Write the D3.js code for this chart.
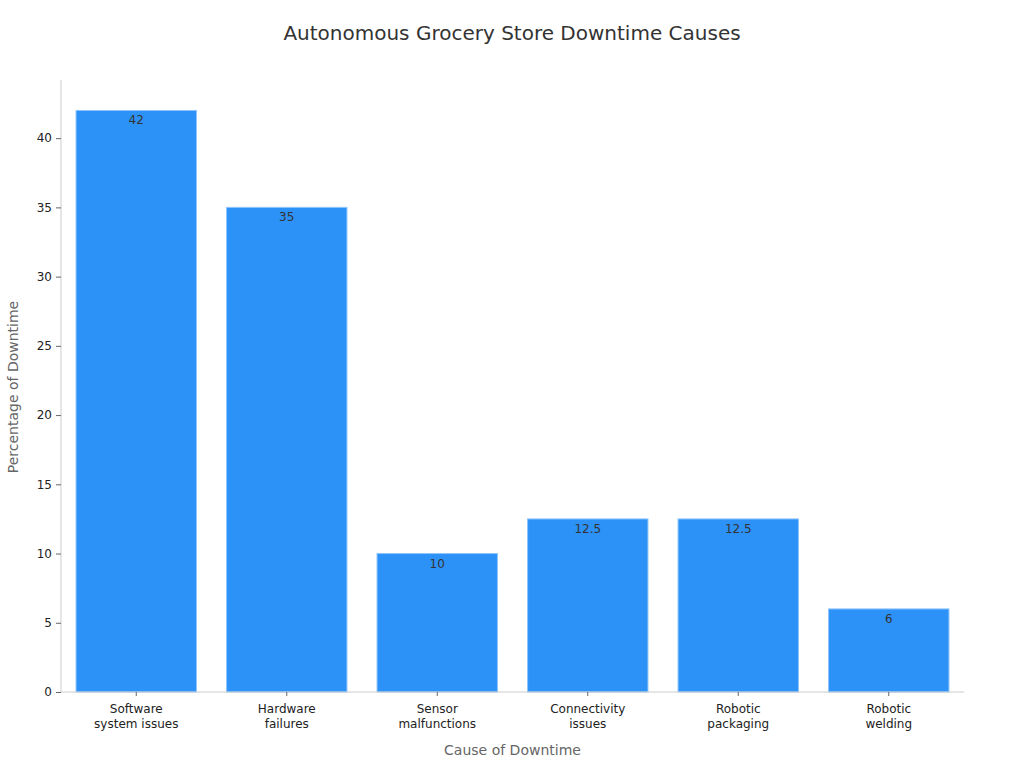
<!DOCTYPE html>
<html>
<head>
<meta charset="utf-8">
<script src="https://cdn.jsdelivr.net/npm/d3@7"></script>
<style>
  body { margin: 0; background: #fff; }
  text { font-family: "DejaVu Sans", sans-serif; }
</style>
</head>
<body>
<svg id="chart" width="1024" height="768"></svg>
<script>
// data
const categories = [
  ["Software", "system issues"],
  ["Hardware", "failures"],
  ["Sensor", "malfunctions"],
  ["Connectivity", "issues"],
  ["Robotic", "packaging"],
  ["Robotic", "welding"]
];
const values = [42, 35, 10, 12.5, 12.5, 6];
const yTicks = [0, 5, 10, 15, 20, 25, 30, 35, 40];

const svg = d3.select("#chart");
const margin = { top: 80, right: 60, bottom: 76, left: 61 };
const width = +svg.attr("width") - margin.left - margin.right;
const height = +svg.attr("height") - margin.top - margin.bottom;
const g = svg.append("g").attr("transform", `translate(${margin.left},${margin.top})`);

const labels = categories.map(c => c.join(" "));

const x = d3.scaleBand()
  .domain(labels)
  .range([0, width])
  .paddingInner(0.2)
  .paddingOuter(0.1);

// 0 at bottom, 40 lands at ~y=138
const y = d3.scaleLinear()
  .domain([0, 44.2])
  .range([height, 0]);

// bars
g.selectAll(".bar")
  .data(values)
  .enter()
  .append("rect")
  .attr("class", "bar")
  .attr("x", (d, i) => x(labels[i]))
  .attr("y", d => y(d))
  .attr("width", x.bandwidth())
  .attr("height", d => height - y(d))
  .attr("fill", "#2d92f8")
  .attr("stroke", "#8cc4fb")
  .attr("stroke-width", 1);

// value labels
g.selectAll(".val")
  .data(values)
  .enter()
  .append("text")
  .attr("class", "val")
  .attr("x", (d, i) => x(labels[i]) + x.bandwidth() / 2)
  .attr("y", d => y(d) + 14)
  .attr("text-anchor", "middle")
  .attr("font-size", "12px")
  .attr("fill", "#333")
  .text(d => d);

// y axis
g.append("g")
  .call(d3.axisLeft(y).tickValues(yTicks).tickSize(5).tickPadding(4))
  .call(a => {
    a.select(".domain").attr("stroke", "#ccc").attr("d", `M0,${height}V0`);
    a.selectAll(".tick line").attr("stroke", "#666");
    a.selectAll(".tick text").attr("fill", "#222").attr("font-size", "12px").attr("font-family", "DejaVu Sans");
  });

// x axis
const xAxis = g.append("g")
  .attr("transform", `translate(0,${height})`)
  .call(d3.axisBottom(x).tickSize(4).tickFormat(""))
  .call(a => {
    a.select(".domain").attr("stroke", "#ccc").attr("d", `M0,0H${width}`);
    a.selectAll(".tick line").attr("stroke", "#666");
  });

xAxis.selectAll(".tick")
  .append("text")
  .attr("text-anchor", "middle")
  .attr("fill", "#222")
  .attr("font-size", "12px")
  .attr("font-family", "DejaVu Sans")
  .selectAll("tspan")
  .data((d, i) => categories[i])
  .enter()
  .append("tspan")
  .attr("x", 0)
  .attr("y", (d, i) => 21 + i * 15)
  .text(d => d);

// title
svg.append("text")
  .attr("x", 512)
  .attr("y", 40)
  .attr("text-anchor", "middle")
  .attr("font-size", "20px")
  .attr("fill", "#333")
  .text("Autonomous Grocery Store Downtime Causes");

// axis titles
svg.append("text")
  .attr("x", margin.left + width / 2)
  .attr("y", 755)
  .attr("text-anchor", "middle")
  .attr("font-size", "14px")
  .attr("fill", "#666")
  .text("Cause of Downtime");

svg.append("text")
  .attr("transform", `translate(18,${margin.top + height / 2 + 1}) rotate(-90)`)
  .attr("text-anchor", "middle")
  .attr("font-size", "14px")
  .attr("fill", "#666")
  .text("Percentage of Downtime");
</script>
</body>
</html>
